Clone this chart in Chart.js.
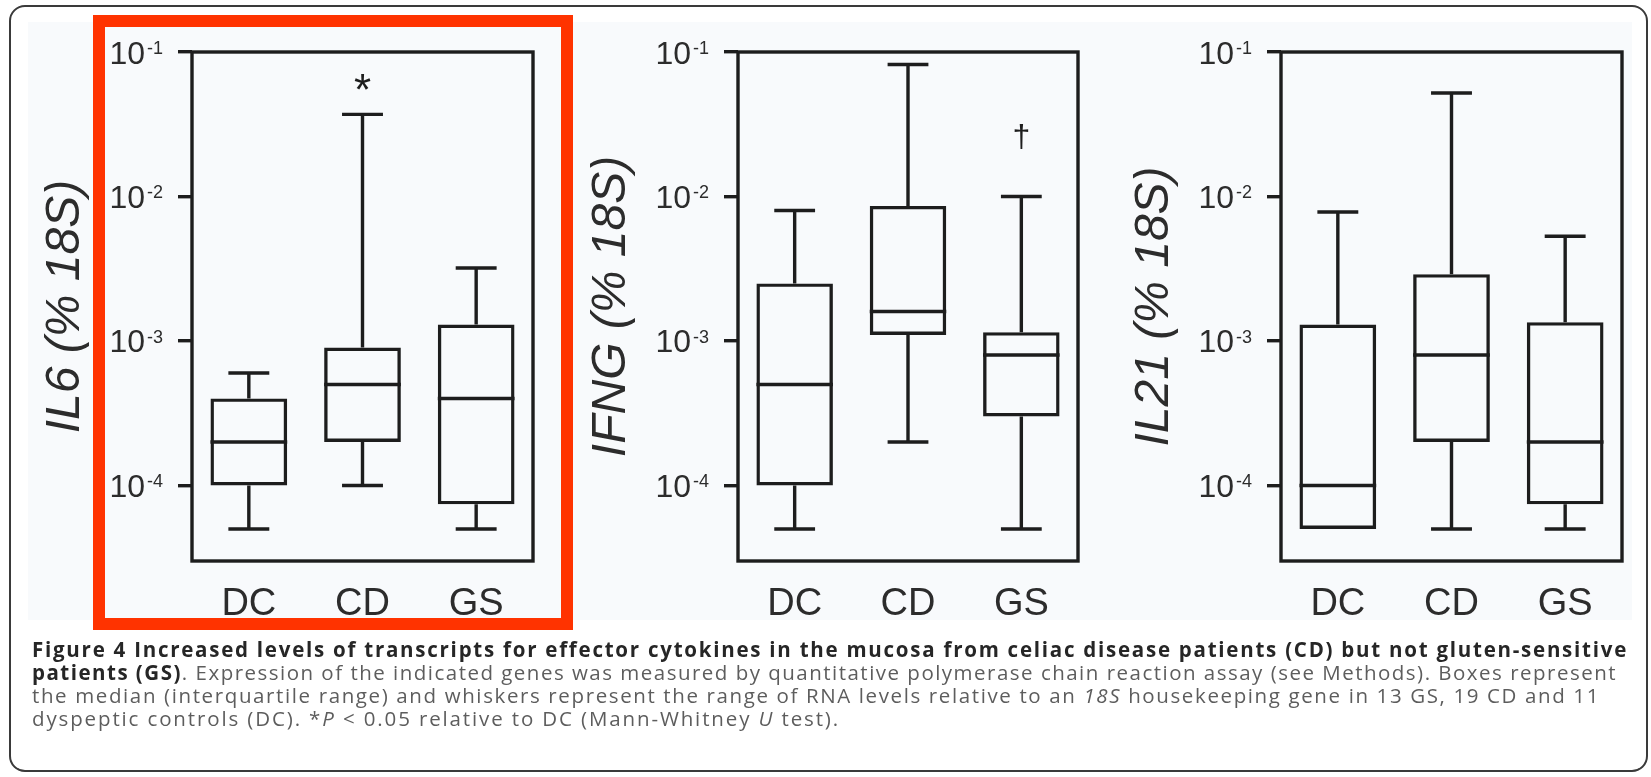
<!DOCTYPE html>
<html>
<head>
<meta charset="utf-8">
<script src="https://cdn.jsdelivr.net/npm/chart.js@4.4.1/dist/chart.umd.min.js"></script>
<style>
  html, body { margin: 0; padding: 0; background: #ffffff; }
  body { width: 1651px; height: 777px; position: relative; overflow: hidden; font-family: 'Liberation Sans', Arial, sans-serif; }
  #plotBg { position: absolute; left: 28px; top: 22px; width: 1604px; height: 598px; background: #f8fafc; }
  #highlight { position: absolute; left: 93px; top: 15px; width: 480px; height: 615px; box-sizing: border-box; border: 12px solid #ff3300; }
  #frame { position: absolute; left: 9px; top: 5px; width: 1639px; height: 767px; box-sizing: border-box; border: 2px solid #3a3a3a; border-radius: 16px; }
  canvas { position: absolute; top: 0; }
  .cap { position: absolute; left: 32px; display: inline-block; white-space: nowrap; font-family: 'Open Sans', 'Noto Sans', sans-serif; font-size: 20.5px; line-height: 23px; color: #5d5d5d; }
  .cap b { color: #262626; font-weight: 700; }
</style>
</head>
<body>
<div id="plotBg"></div>
<div id="highlight"></div>
<canvas id="c1" width="541" height="640"></canvas>
<canvas id="c2" width="540" height="640"></canvas>
<canvas id="c3" width="541" height="640"></canvas>
<div id="frame"></div>

<div class="cap" style="top:638px" data-w="1596"><b>Figure 4 Increased levels of transcripts for effector cytokines in the mucosa from celiac disease patients (CD) but not gluten-sensitive</b></div>
<div class="cap" style="top:661px" data-w="1585"><b>patients (GS)</b>. Expression of the indicated genes was measured by quantitative polymerase chain reaction assay (see Methods). Boxes represent</div>
<div class="cap" style="top:684px" data-w="1568">the median (interquartile range) and whiskers represent the range of RNA levels relative to an <i>18S</i> housekeeping gene in 13 GS, 19 CD and 11</div>
<div class="cap" style="top:707px" data-w="808">dyspeptic controls (DC). *<i>P</i> &lt; 0.05 relative to DC (Mann-Whitney <i>U</i> test).</div>

<script>
// Groups and axis ticks shared by the three panels
const categories = ['DC', 'CD', 'GS'];
const decadeTicks = [1e-4, 1e-3, 1e-2, 1e-1];
const axisMin = 3e-5;
const axisMax = 1e-1;

// IL6 expression (% of 18S): range and interquartile range per group
const il6Min    = [5e-5, 1e-4, 5e-5];
const il6Q1     = [1e-4, 2e-4, 7.4e-5];
const il6Median = [2e-4, 5e-4, 4e-4];
const il6Q3     = [4e-4, 9e-4, 1.3e-3];
const il6Max    = [6e-4, 3.7e-2, 3.2e-3];
const il6Marks  = ['', '*', ''];
const il6MarkAt = [null, 0.062, null];

// IFNG expression (% of 18S)
const ifngMin    = [5e-5, 2e-4, 5e-5];
const ifngQ1     = [1e-4, 1.1e-3, 3e-4];
const ifngMedian = [5e-4, 1.6e-3, 8e-4];
const ifngQ3     = [2.5e-3, 8.6e-3, 1.15e-3];
const ifngMax    = [8e-3, 8.2e-2, 1e-2];
const ifngMarks  = ['', '', '\u2020'];
const ifngMarkAt = [null, null, 0.026];

// IL21 expression (% of 18S)
const il21Min    = [5e-5, 5e-5, 5e-5];
const il21Q1     = [5e-5, 2e-4, 7.4e-5];
const il21Median = [1e-4, 8e-4, 2e-4];
const il21Q3     = [1.3e-3, 2.9e-3, 1.35e-3];
const il21Max    = [7.8e-3, 5.2e-2, 5.3e-3];
const il21Marks  = ['', '', ''];
const il21MarkAt = [null, null, null];

const INK = '#1d1d1d';
const LABEL_INK = '#2c2c2c';
const LW = 3.4;
const AXIS_W = 185;     // room left of each plot frame for ticks and title
const FONT = "'Liberation Sans', Arial, sans-serif";

// Whiskers, caps, medians, significance marks, frame and 10^n tick labels
function boxPlotPlugin(s) {
  return {
    id: 'boxPlot',
    afterDatasetsDraw(chart) {
      const { ctx, scales: { x, y } } = chart;
      const bars = chart.getDatasetMeta(0).data;
      const step = x.getPixelForValue(1) - x.getPixelForValue(0);
      const cap = step * 0.18;
      ctx.save();
      ctx.strokeStyle = INK;
      ctx.lineWidth = LW;
      ctx.lineCap = 'butt';
      s.median.forEach((m, i) => {
        const cx = x.getPixelForValue(i);
        const half = bars[i].width / 2;
        const yMin = y.getPixelForValue(s.min[i]);
        const yQ1 = y.getPixelForValue(s.q1[i]);
        const yMed = y.getPixelForValue(m);
        const yQ3 = y.getPixelForValue(s.q3[i]);
        const yMax = y.getPixelForValue(s.max[i]);
        ctx.beginPath();
        ctx.moveTo(cx - half, yMed); ctx.lineTo(cx + half, yMed);
        if (s.max[i] > s.q3[i]) {
          ctx.moveTo(cx, yQ3); ctx.lineTo(cx, yMax);
          ctx.moveTo(cx - cap, yMax); ctx.lineTo(cx + cap, yMax);
        }
        if (s.min[i] < s.q1[i]) {
          ctx.moveTo(cx, yQ1); ctx.lineTo(cx, yMin);
          ctx.moveTo(cx - cap, yMin); ctx.lineTo(cx + cap, yMin);
        }
        ctx.stroke();
        if (s.marks[i]) {
          const size = s.marks[i] === '*' ? 44 : 32;
          ctx.font = size + 'px ' + FONT;
          ctx.fillStyle = INK;
          ctx.textAlign = 'center';
          ctx.textBaseline = 'alphabetic';
          const mt = ctx.measureText(s.marks[i]);
          const my = y.getPixelForValue(s.markAt[i]);
          const base = my + (mt.actualBoundingBoxAscent - mt.actualBoundingBoxDescent) / 2;
          ctx.fillText(s.marks[i], cx, base);
        }
      });
      ctx.restore();
    },
    afterDraw(chart) {
      const { ctx, chartArea: a, scales: { y } } = chart;
      ctx.save();
      ctx.strokeStyle = INK;
      ctx.lineWidth = LW;
      ctx.strokeRect(a.left, a.top, a.right - a.left, a.bottom - a.top);
      ctx.fillStyle = LABEL_INK;
      ctx.textBaseline = 'alphabetic';
      decadeTicks.forEach(v => {
        const py = y.getPixelForValue(v);
        const exp = Math.round(Math.log10(v));
        ctx.font = '32px ' + FONT;
        ctx.textAlign = 'right';
        ctx.fillText('10', a.left - 47, py + 11.5);
        ctx.font = '18px ' + FONT;
        ctx.textAlign = 'left';
        ctx.fillText(String(exp), a.left - 45, py + 2);
      });
      ctx.restore();
    }
  };
}

function drawPanel(id, frameLeft, frameWidth, title, s) {
  const canvas = document.getElementById(id);
  canvas.style.left = (frameLeft - AXIS_W) + 'px';
  canvas.width = AXIS_W + frameWidth + 15;
  return new Chart(canvas, {
    type: 'bar',
    data: {
      labels: categories,
      datasets: [{
        data: s.q1.map((q, i) => [q, s.q3[i]]),
        backgroundColor: 'rgba(0,0,0,0)',
        borderColor: INK,
        borderWidth: LW,
        borderSkipped: false,
        barPercentage: 0.675,
        categoryPercentage: 1
      }]
    },
    options: {
      responsive: false,
      animation: false,
      events: [],
      layout: { padding: { top: 52, right: 15, left: 0, bottom: 0 } },
      plugins: { legend: { display: false }, tooltip: { enabled: false } },
      scales: {
        x: {
          type: 'category',
          offset: true,
          grid: { display: false },
          border: { display: false },
          ticks: { color: LABEL_INK, padding: 13, font: { family: FONT, size: 38 } },
          afterFit: sc => { sc.height = 79; }
        },
        y: {
          type: 'logarithmic',
          min: axisMin,
          max: axisMax,
          afterBuildTicks: sc => { sc.ticks = decadeTicks.map(v => ({ value: v })); },
          ticks: { callback: () => '' },
          grid: { display: true, drawOnChartArea: false, drawTicks: true, tickLength: 14, color: INK, lineWidth: LW },
          border: { display: false },
          title: {
            display: true,
            text: title,
            color: LABEL_INK,
            font: { family: FONT, size: 48, style: 'italic' },
            padding: { top: 30, bottom: 0 }
          },
          afterFit: sc => { sc.width = AXIS_W; }
        }
      }
    },
    plugins: [boxPlotPlugin(s)]
  });
}

drawPanel('c1', 192, 341, 'IL6 (% 18S)',
  { min: il6Min, q1: il6Q1, median: il6Median, q3: il6Q3, max: il6Max, marks: il6Marks, markAt: il6MarkAt });
drawPanel('c2', 738, 340, 'IFNG (% 18S)',
  { min: ifngMin, q1: ifngQ1, median: ifngMedian, q3: ifngQ3, max: ifngMax, marks: ifngMarks, markAt: ifngMarkAt });
drawPanel('c3', 1281, 341, 'IL21 (% 18S)',
  { min: il21Min, q1: il21Q1, median: il21Median, q3: il21Q3, max: il21Max, marks: il21Marks, markAt: il21MarkAt });

// Spread each caption line to its set width
function fitCaption() {
  document.querySelectorAll('.cap').forEach(el => {
    el.style.letterSpacing = '0px';
    const target = +el.dataset.w;
    const w = el.getBoundingClientRect().width;
    const n = el.textContent.length;
    el.style.letterSpacing = ((target - w) / n) + 'px';
  });
}
fitCaption();
if (document.fonts && document.fonts.ready) document.fonts.ready.then(fitCaption);
</script>
</body>
</html>
